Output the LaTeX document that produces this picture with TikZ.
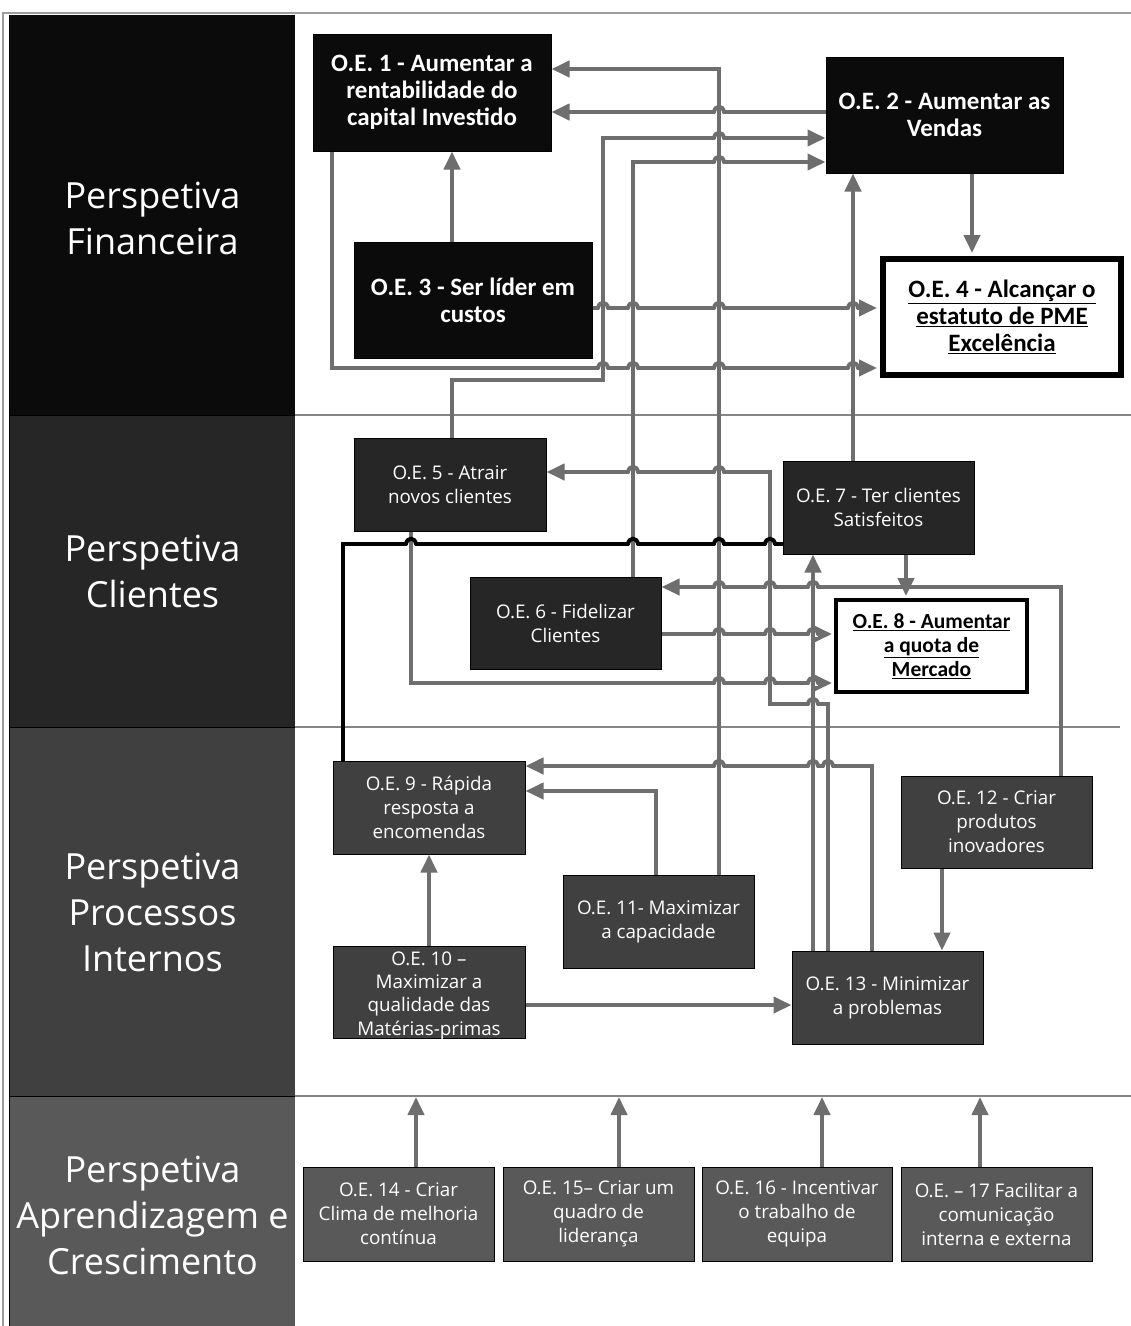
\documentclass[tikz,border=0pt]{standalone}
\usepackage{fontspec}
\setmainfont{Open Sans}
\newfontfamily\carlito{Carlito}
\usetikzlibrary{arrows.meta}
\definecolor{lg}{HTML}{6E6E6E}
\definecolor{pA}{HTML}{0B0B0B}
\definecolor{pB}{HTML}{262626}
\definecolor{pC}{HTML}{404040}
\definecolor{pD}{HTML}{595959}
\definecolor{sepc}{HTML}{858585}
\newcommand{\hop}[3][lg]{%
  \fill[white] ({#2-5},{#3-3}) rectangle ({#2+5},{#3+3});
  \draw[lg, line width=4pt] ({#2},{#3-4}) -- ({#2},{#3+4});
  \draw[#1, line width=4pt, line cap=round] ({#2-5},{#3}) .. controls ({#2-4},{#3-7}) and ({#2+4},{#3-7}) .. ({#2+5},{#3});
}
\tikzset{
  base/.style={draw=black, line width=1pt, text=white, align=center, inner sep=0pt,
    font=\fontsize{18.8}{24}\selectfont},
  boxA/.style={base, fill=pA, font=\carlito\bfseries\fontsize{25}{27}\selectfont},
  boxB/.style={base, fill=pB},
  boxC/.style={base, fill=pC},
  boxD/.style={base, fill=pD},
  boxW/.style={base, fill=white, text=black, draw=black},
  persp/.style={text=white, align=center, inner sep=0pt, font=\fontsize{36}{46}\selectfont},
  conn/.style={draw=lg, line width=4pt},
  arr/.style={conn, -{Triangle[length=18pt,width=16pt]}},
  sepline/.style={draw=sepc, line width=1.2pt},
}
\begin{document}
\begin{tikzpicture}[x=1pt,y=-1pt]
\path[use as bounding box, fill=white] (0,0) rectangle (1131,1326);
% frame
\draw[sepc!80, line width=1.5pt] (3,1326) -- (3,13) -- (1131,13);
\draw[black, line width=1pt] (9,15) -- (9,1326);
% panels
\fill[pA] (10,15) rectangle (295,415);
\fill[pB] (10,415) rectangle (295,727);
\fill[pC] (10,727) rectangle (295,1096);
\fill[pD] (10,1096) rectangle (295,1326);
\draw[black, line width=0.8pt] (10,415) -- (295,415) (10,727) -- (295,727) (10,1096) -- (295,1096);
% separators
\draw[sepline] (295,415) -- (1131,415);
\draw[sepline] (295,727) -- (1120,727);
\draw[sepline] (295,1096) -- (1131,1096);
% perspective labels
\node[persp] (pfin) at (152.5,218) {Perspetiva\\Financeira};
\node[persp] (pcli) at (152.5,571) {Perspetiva\\Clientes};
\node[persp] (ppro) at (152.5,912) {Perspetiva\\Processos\\Internos};
\node[persp] (papr) at (152.5,1215) {Perspetiva\\Aprendizagem e\\Crescimento};
% boxes
\node[boxA, minimum width=238pt, minimum height=117pt] (oe1) at (432,92.5) {O.E. 1 - Aumentar a\\rentabilidade do\\capital Investido};
\node[boxA, minimum width=237pt, minimum height=116pt] (oe2) at (944.5,115) {O.E. 2 - Aumentar as\\Vendas};
\node[boxA, minimum width=238pt, minimum height=116pt] (oe3) at (473,300) {O.E. 3 - Ser líder em\\custos};
\node[boxW, line width=6pt, minimum width=238pt, minimum height=116pt,
  font=\carlito\bfseries\fontsize{25}{27}\selectfont] (oe4) at (1002,317)
  {\underline{O.E. 4 - Alcançar o}\\\underline{estatuto de PME}\\\underline{Excelência}};
\node[boxB, minimum width=192pt, minimum height=93pt] (oe5) at (450,484.5) {O.E. 5 - Atrair\\novos clientes};
\node[boxB, minimum width=191pt, minimum height=92pt] (oe6) at (565.5,623) {O.E. 6 - Fidelizar\\Clientes};
\node[boxB, minimum width=191pt, minimum height=93pt] (oe7) at (878.5,507.5) {O.E. 7 - Ter clientes\\Satisfeitos};
\node[boxW, line width=4pt, minimum width=191pt, minimum height=92pt,
  font=\carlito\bfseries\fontsize{21.5}{24}\selectfont] (oe8) at (931.5,646)
  {\underline{O.E. 8 - Aumentar}\\\underline{a quota de}\\\underline{Mercado}};
\node[boxC, minimum width=192pt, minimum height=93pt] (oe9) at (429,807.5) {O.E. 9 - Rápida\\resposta a\\encomendas};
\node[boxC, minimum width=192pt, minimum height=92pt] (oe10) at (429,992) {};
\node[text=white, align=center, inner sep=0pt, font=\fontsize{18.8}{23.3}\selectfont] (oe10text) at (429,995.5) {O.E. 10 –\\Maximizar a\\qualidade das\\Matérias-primas};
\node[boxC, minimum width=191pt, minimum height=93pt] (oe11) at (658.5,921.5) {O.E. 11- Maximizar\\a capacidade};
\node[boxC, minimum width=191pt, minimum height=92pt] (oe12) at (996.5,822) {O.E. 12 - Criar\\produtos\\inovadores};
\node[boxC, minimum width=191pt, minimum height=93pt] (oe13) at (887.5,997.5) {O.E. 13 - Minimizar\\a problemas};
\node[boxD, minimum width=191pt, minimum height=94pt] (oe14) at (398.5,1214) {O.E. 14 - Criar\\Clima de melhoria\\contínua};
\node[boxD, minimum width=191pt, minimum height=94pt] (oe15) at (598.5,1214) {O.E. 15– Criar um\\quadro de\\liderança};
\node[boxD, minimum width=190pt, minimum height=94pt] (oe16) at (797,1214) {O.E. 16 - Incentivar\\o trabalho de\\equipa};
\node[boxD, minimum width=191pt, minimum height=94pt] (oe17) at (996.5,1214) {O.E. – 17 Facilitar a\\comunicação\\interna e externa};
% free ends of the bottom arrows
\coordinate (t14) at (416,1097);
\coordinate (t15) at (619,1097);
\coordinate (t16) at (822,1097);
\coordinate (t17) at (980,1097);
% connectors
\draw[arr] (719,0 |- oe11.north) -- (719,69) -- (oe1.east |- 0,69);
\draw[arr] (oe2.west |- 0,112) -- (oe1.east |- 0,112);
\draw[arr] (452,0 |- oe5.north) -- (452,380) -- (603,380) -- (603,138) -- (oe2.west |- 0,138);
\draw[arr] (633,0 |- oe6.north) -- (633,162) -- (oe2.west |- 0,162);
\draw[arr] (452,0 |- oe3.north) -- (452,0 |- oe1.south);
\draw[arr, shorten >=3pt] (oe3.east |- 0,308) -- (oe4.west |- 0,308);
\draw[arr, shorten >=3pt] (332,0 |- oe1.south) -- (332,368) -- (oe4.west |- 0,368);
\draw[arr, shorten >=3pt] (972,0 |- oe2.south) -- (972,0 |- oe4.north);
\draw[arr] (853,0 |- oe7.north) -- (853,0 |- oe2.south);
\draw[arr] (828,0 |- oe13.north) -- (828,704) -- (770,704) -- (770,472) -- (oe5.east |- 0,472);
\draw[arr, shorten >=2pt] (411,0 |- oe5.south) -- (411,683) -- (oe8.west |- 0,683);
\draw[arr] (813,0 |- oe13.north) -- (813,0 |- oe7.south);
\draw[arr] (1061,0 |- oe12.north) -- (1061,587) -- (oe6.east |- 0,587);
\draw[arr, shorten >=2pt] (906,0 |- oe7.south) -- (906,0 |- oe8.north);
\draw[arr, shorten >=2pt] (oe6.east |- 0,634) -- (oe8.west |- 0,634);
\draw[arr] (872,0 |- oe13.north) -- (872,766) -- (oe9.east |- 0,766);
\draw[arr] (656,0 |- oe11.north) -- (656,791) -- (oe9.east |- 0,791);
\draw[arr] (oe10.north) -- (oe9.south);
\draw[arr] (oe10.east |- 0,1005) -- (oe13.west |- 0,1005);
\draw[arr] (942,0 |- oe12.south) -- (942,0 |- oe13.north);
\draw[black, line width=4pt] (oe7.west |- 0,544) -- (343,544) -- (343,0 |- oe9.north);
\draw[arr] (416,0 |- oe14.north) -- (t14);
\draw[arr] (619,0 |- oe15.north) -- (t15);
\draw[arr] (822,0 |- oe16.north) -- (t16);
\draw[arr] (980,0 |- oe17.north) -- (t17);
% line hops
\hop{719}{112}
\hop{719}{138}
\hop{719}{162}
\hop{603}{308}\hop{633}{308}\hop{719}{308}\hop{853}{308}
\hop{603}{368}\hop{633}{368}\hop{719}{368}\hop{853}{368}
\hop{633}{472}\hop{719}{472}
\hop[black]{411}{544}\hop[black]{633}{544}\hop[black]{719}{544}\hop[black]{770}{544}
\hop{719}{587}\hop{770}{587}\hop{813}{587}
\hop{719}{634}\hop{770}{634}\hop{813}{634}
\hop{719}{683}\hop{770}{683}\hop{813}{683}
\hop{813}{704}
\hop{719}{766}\hop{813}{766}\hop{828}{766}
\end{tikzpicture}
\end{document}
